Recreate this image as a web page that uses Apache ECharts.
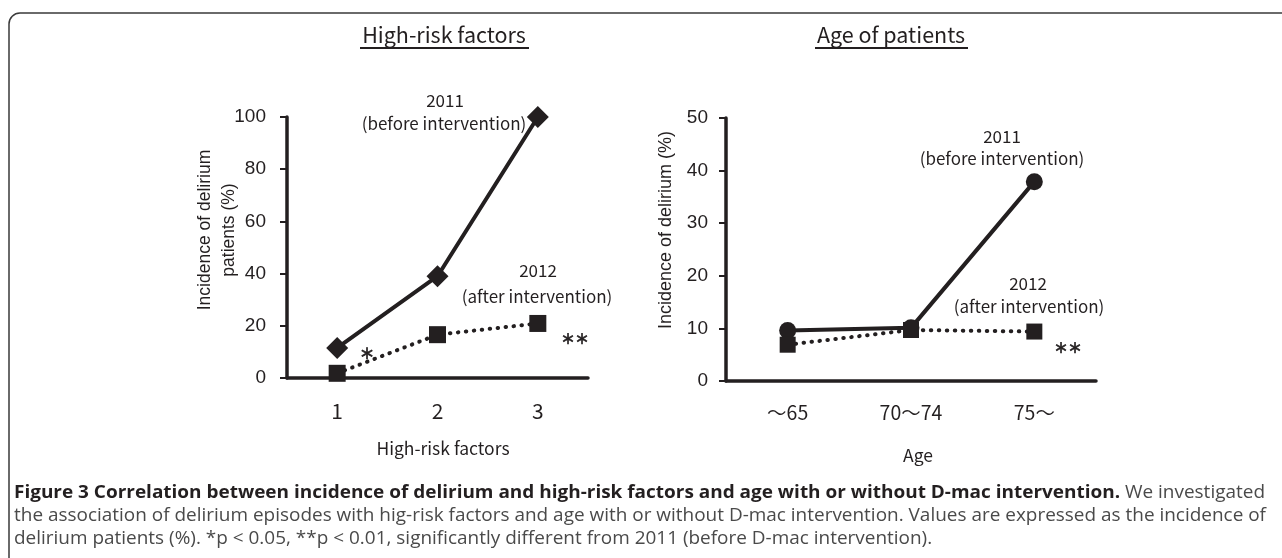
<!DOCTYPE html>
<html><head><meta charset="utf-8">
<script src="https://cdn.jsdelivr.net/npm/echarts@6/dist/echarts.min.js"></script>
<style>html,body{margin:0;padding:0;background:#fff}#c{width:1282px;height:558px}</style>
</head><body><div id="c"></div>
<script>
// ---- data ----
const riskCategories = ['1', '2', '3'];
const risk2011 = [11.5, 39, 100];
const risk2012 = [1.8, 16.6, 20.9];
const riskTicks = [0, 20, 40, 60, 80, 100];

const ageCategories = ['～65', '70～74', '75～'];
const age2011 = [9.6, 10.1, 37.9];
const age2012 = [6.9, 9.7, 9.4];
const ageTicks = [0, 10, 20, 30, 40, 50];

const captionBold = 'Figure 3 Correlation between incidence of delirium and high-risk factors and age with or without D-mac intervention.';
const captionLine1 = 'We investigated';
const captionLine2 = 'the association of delirium episodes with hig-risk factors and age with or without D-mac intervention. Values are expressed as the incidence of';
const captionLine3 = 'delirium patients (%). *p < 0.05, **p < 0.01, significantly different from 2011 (before D-mac intervention).';

// ---- styling ----
const INK = '#231f20';
const JP = '"Noto Sans CJK JP", "Noto Sans", sans-serif';
const SANS = '"Liberation Sans", Arial, sans-serif';
const CAP = '"Open Sans", "Noto Sans", sans-serif';

const mctx = document.createElement('canvas').getContext('2d');
function measure(text, font) { mctx.font = font; return mctx.measureText(text).width; }

const chart = echarts.init(document.getElementById('c'), null, { renderer: 'canvas' });

function yAxisCfg(gridIndex, ticks, margin) {
  return {
    type: 'value', gridIndex,
    min: ticks[0], max: ticks[ticks.length - 1], interval: ticks[1] - ticks[0],
    axisLine: { show: true, lineStyle: { color: INK, width: 3.5 } },
    axisTick: { show: true, length: 7, lineStyle: { color: INK, width: 2 } },
    splitLine: { show: false },
    axisLabel: { color: INK, fontFamily: SANS, fontSize: 19, margin }
  };
}
function xAxisCfg(gridIndex, cats, size, margin) {
  return {
    type: 'category', gridIndex, data: cats, boundaryGap: true,
    axisLine: { show: true, lineStyle: { color: INK, width: 3.5 } },
    axisTick: { show: false },
    axisLabel: { color: INK, fontFamily: JP, fontSize: size, margin }
  };
}

const solid = { color: INK, width: 4 };
const dotted = { color: INK, width: 4, type: [0.5, 7.5], cap: 'round' };

function txt(text, x, y, size, font, opts) {
  return Object.assign({
    type: 'text', x, y, silent: true,
    style: { text, fill: INK, font: size + 'px ' + (font || JP), align: 'center', verticalAlign: 'middle' }
  }, opts || {});
}

// caption layout
const boldFont = 'bold 18px ' + CAP;
const normFont = '18px ' + CAP;
const wBold = measure(captionBold + ' ', boldFont);
const wL1 = measure(captionLine1, normFont);
const s1 = (1265 - 14) / (wBold + wL1);
const s2 = (1266 - 14) / measure(captionLine2, normFont);
const s3 = s2;

const graphics = [
  { type: 'rect', shape: { x: 9, y: 13, width: 1320, height: 620, r: 11 }, style: { fill: 'none', stroke: '#3a3a3a', lineWidth: 1.5 }, silent: true },
  // panel titles
  txt('High-risk factors', 444, 35, 21.5),
  { type: 'line', shape: { x1: 360, y1: 48, x2: 529, y2: 48 }, style: { stroke: INK, lineWidth: 2 }, silent: true },
  txt('Age of patients', 891, 35, 21.5),
  { type: 'line', shape: { x1: 815, y1: 48, x2: 968, y2: 48 }, style: { stroke: INK, lineWidth: 2 }, silent: true },
  // y-axis names
  txt('Incidence of delirium', 205, 230, 17.5, SANS, { rotation: Math.PI / 2 }),
  txt('patients (%)', 229, 230, 17.5, SANS, { rotation: Math.PI / 2 }),
  txt('Incidence of delirium (%)', 666, 230, 18, SANS, { rotation: Math.PI / 2 }),
  // x-axis names
  txt('High-risk factors', 443, 448, 17.5),
  txt('Age', 918, 455, 17.5),
  // annotations
  txt('2011', 445, 101, 17),
  txt('(before intervention)', 444, 124, 17),
  txt('2012', 538, 271, 17),
  txt('(after intervention)', 537, 297, 17),
  txt('2011', 1002, 137, 17),
  txt('(before intervention)', 1002, 159, 17),
  txt('2012', 1028, 284, 17),
  txt('(after intervention)', 1029, 307, 17),
  // significance marks
  txt('＊', 367, 353, 15, 'bold ' + JP.replace(/^/, '')),
  txt('＊＊', 575, 339, 14),
  txt('＊＊', 1068, 348, 14),
  // caption
  { type: 'text', x: 14, y: 493, scaleX: s1, silent: true, style: { text: captionBold, fill: INK, font: boldFont, align: 'left', verticalAlign: 'middle' } },
  { type: 'text', x: 14 + wBold * s1, y: 493, scaleX: s1, silent: true, style: { text: captionLine1, fill: '#4a4a4a', font: normFont, align: 'left', verticalAlign: 'middle' } },
  { type: 'text', x: 14, y: 516, scaleX: s2, silent: true, style: { text: captionLine2, fill: '#4a4a4a', font: normFont, align: 'left', verticalAlign: 'middle' } },
  { type: 'text', x: 14, y: 539, scaleX: s3, silent: true, style: { text: captionLine3, fill: '#4a4a4a', font: normFont, align: 'left', verticalAlign: 'middle' } }
];
// heavier asterisks
graphics.forEach(g => {
  if (g.type === 'text' && g.style && /＊/.test(g.style.text)) {
    g.style.font = 'bold ' + (g.style.text.length > 1 ? 14 : 15) + 'px ' + JP;
    g.style.stroke = INK; g.style.lineWidth = 0.6;
  }
});

chart.setOption({
  animation: false,
  backgroundColor: '#fff',
  grid: [
    { left: 287, right: 1282 - 588, top: 117, bottom: 558 - 378 },
    { left: 726, right: 1282 - 1096, top: 118, bottom: 558 - 381 }
  ],
  xAxis: [xAxisCfg(0, riskCategories, 21, 23), xAxisCfg(1, ageCategories, 19.5, 22)],
  yAxis: [yAxisCfg(0, riskTicks, 21), yAxisCfg(1, ageTicks, 18)],
  series: [
    { name: '2011', type: 'line', xAxisIndex: 0, yAxisIndex: 0, data: risk2011, symbol: 'diamond', symbolSize: 22,
      lineStyle: solid, itemStyle: { color: INK }, z: 2 },
    { name: '2012', type: 'line', xAxisIndex: 0, yAxisIndex: 0, data: risk2012, symbol: 'rect', symbolSize: 17,
      lineStyle: dotted, itemStyle: { color: INK }, z: 3 },
    { name: '2011', type: 'line', xAxisIndex: 1, yAxisIndex: 1, data: age2011, symbol: 'circle', symbolSize: 17,
      lineStyle: solid, itemStyle: { color: INK }, z: 2 },
    { name: '2012', type: 'line', xAxisIndex: 1, yAxisIndex: 1, data: age2012, symbol: 'rect', symbolSize: 16,
      lineStyle: dotted, itemStyle: { color: INK }, z: 3 }
  ],
  graphic: graphics
});
</script>
</body></html>
